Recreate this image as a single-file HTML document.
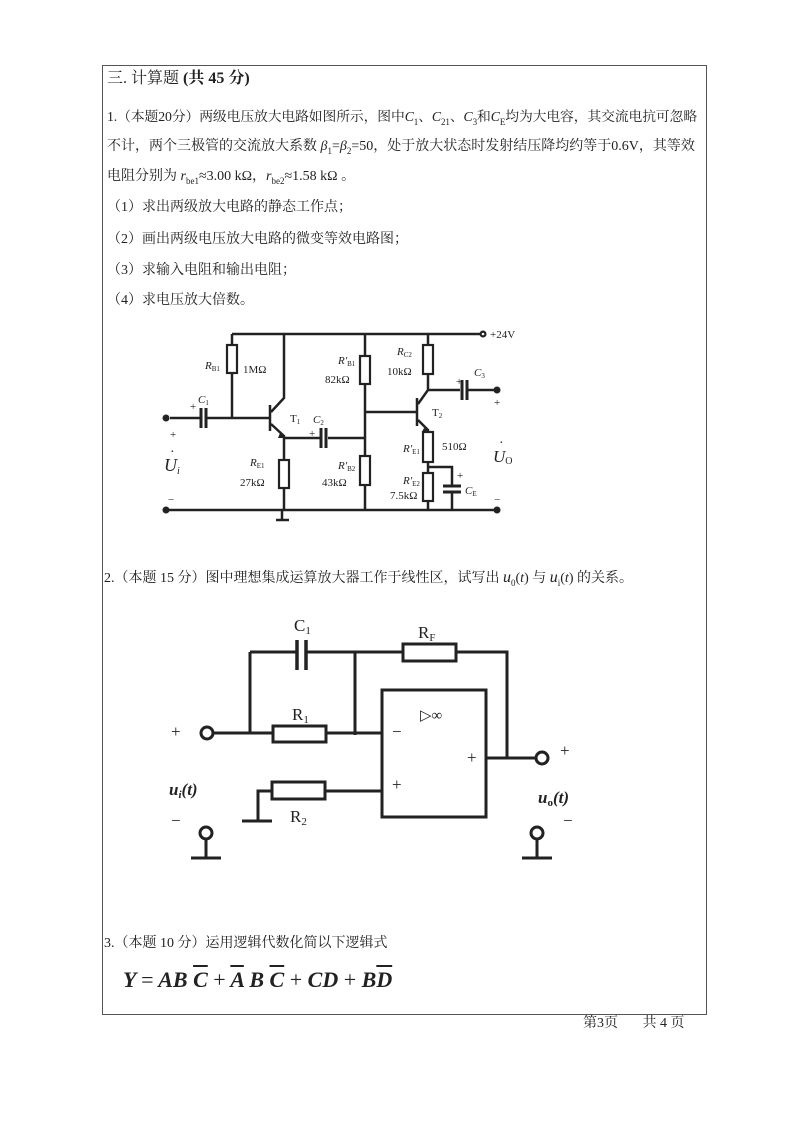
<!DOCTYPE html>
<html><head><meta charset="utf-8">
<style>
body{margin:0;background:#fff;}
#p{position:relative;width:792px;height:1122px;overflow:hidden;background:#fff;font-family:"Liberation Serif","Noto Serif CJK SC","Noto Sans CJK SC",serif;color:#222;}
.t{position:absolute;font-size:14px;white-space:nowrap;line-height:1;}
.box{position:absolute;left:102px;top:65px;width:603px;height:948px;border:1px solid #555;}
svg{position:absolute;left:0;top:0;}
sub{font-size:9px;}
</style></head><body><div id="p">
<div class="box"></div>
<div class="t" style="left:107px;top:71px;font-size:16px;">三. 计算题 <b>(共 45 分)</b></div>
<div class="t" style="left:107px;top:110px;font-size:13.8px;letter-spacing:-0.1px;">1.（本题20分）两级电压放大电路如图所示，图中<i>C</i><sub>1</sub>、<i>C</i><sub>21</sub>、<i>C</i><sub>3</sub>和<i>C</i><sub>E</sub>均为大电容，其交流电抗可忽略</div>
<div class="t" style="left:107px;top:140px;">不计，两个三极管的交流放大系数 <i>β</i><sub>1</sub>=<i>β</i><sub>2</sub>=50，处于放大状态时发射结压降均约等于0.6V，其等效</div>
<div class="t" style="left:107px;top:170px;">电阻分别为 <i>r</i><sub>be1</sub>≈3.00 kΩ，<i>r</i><sub>be2</sub>≈1.58 kΩ 。</div>
<div class="t" style="left:107px;top:201px;">（1）求出两级放大电路的静态工作点；</div>
<div class="t" style="left:107px;top:233px;">（2）画出两级电压放大电路的微变等效电路图；</div>
<div class="t" style="left:107px;top:264px;">（3）求输入电阻和输出电阻；</div>
<div class="t" style="left:107px;top:294px;">（4）求电压放大倍数。</div>
<div class="t" style="left:104px;top:570px;">2.（本题 15 分）图中理想集成运算放大器工作于线性区，试写出 <i style="font-size:16px">u</i><sub>0</sub>(<i>t</i>) 与 <i style="font-size:16px">u</i><sub>i</sub>(<i>t</i>) 的关系。</div>
<div class="t" style="left:104px;top:937px;">3.（本题 10 分）运用逻辑代数化简以下逻辑式</div>
<div class="t" style="left:123px;top:969px;font-size:22px;font-weight:bold;font-style:italic;">Y <span style="font-style:normal;font-weight:normal">=</span> AB <span style="text-decoration:overline">C</span> <span style="font-style:normal;font-weight:normal">+</span> <span style="text-decoration:overline">A</span> B <span style="text-decoration:overline">C</span> <span style="font-style:normal;font-weight:normal">+</span> CD <span style="font-style:normal;font-weight:normal">+</span> B<span style="text-decoration:overline">D</span></div>
<div class="t" style="left:583px;top:1017px;font-size:14px;">第3页&nbsp;&nbsp;&nbsp;&nbsp;&nbsp;&nbsp;&nbsp;共 4 页</div>

<svg width="792" height="1122" viewBox="0 0 792 1122" font-family="Liberation Serif, serif" fill="none" stroke="#222" stroke-width="2.5">
<path d="M232 334H483 M232 334V418 M170 418H200 M207 418H270 M270 405V431 M284 334V398 L271 412 M271 424 L284 436V510 M284 438H320 M328 438H365 M365 334V510 M365 412H417 M417 398V426 M428 334V390 L418 404 M418 420 L428 430V510 M428 390H460 M468 390H497 M428 467H452V486 M452 492V510 M166 510H497 M282 510V520 M276 520H289"/>
<g fill="#fff" stroke-width="2.2"><rect x="227" y="345" width="10" height="28"/><rect x="279" y="460" width="10" height="28"/><rect x="360" y="356" width="10" height="28"/><rect x="360" y="456" width="10" height="29"/><rect x="423" y="345" width="10" height="29"/><rect x="423" y="432" width="10" height="30"/><rect x="423" y="473" width="10" height="28"/></g>
<path stroke-width="3" d="M201 408V428 M206 408V428 M321 428V448 M326 428V448 M462 380V400 M467 380V400 M443 486H461 M443 492H461"/>
<g fill="#222" stroke="none"><circle cx="166" cy="418" r="3.5"/><circle cx="166" cy="510" r="3.5"/><circle cx="497" cy="390" r="3.5"/><circle cx="497" cy="510" r="3.5"/><circle cx="483" cy="334" r="3.5"/><path d="M280 433l4 5-6 0z M424 428l4 3-6 1z"/></g>
<circle cx="483" cy="334" r="1.3" fill="#fff" stroke="none"/>
<g fill="#222" stroke="none" font-size="11">
<text x="490" y="338">+24V</text>
<text x="205" y="369"><tspan font-style="italic">R</tspan><tspan font-size="7" dy="2">B1</tspan></text>
<text x="243" y="373">1MΩ</text>
<text x="198" y="403"><tspan font-style="italic">C</tspan><tspan font-size="7" dy="2">1</tspan></text><text x="190" y="410">+</text>
<text x="290" y="422">T<tspan font-size="7" dy="2">1</tspan></text>
<text x="313" y="423"><tspan font-style="italic">C</tspan><tspan font-size="7" dy="2">2</tspan></text><text x="309" y="437">+</text>
<text x="338" y="364"><tspan font-style="italic">R′</tspan><tspan font-size="7" dy="2">B1</tspan></text>
<text x="325" y="383">82kΩ</text>
<text x="397" y="355"><tspan font-style="italic">R</tspan><tspan font-size="7" dy="2">C2</tspan></text>
<text x="387" y="375">10kΩ</text>
<text x="474" y="376"><tspan font-style="italic">C</tspan><tspan font-size="7" dy="2">3</tspan></text><text x="456" y="385">+</text>
<text x="494" y="406">+</text>
<text x="432" y="416">T<tspan font-size="7" dy="2">2</tspan></text>
<text x="403" y="452"><tspan font-style="italic">R′</tspan><tspan font-size="7" dy="2">E1</tspan></text>
<text x="442" y="450">510Ω</text>
<text x="403" y="484"><tspan font-style="italic">R′</tspan><tspan font-size="7" dy="2">E2</tspan></text>
<text x="390" y="499">7.5kΩ</text>
<text x="457" y="479">+</text>
<text x="465" y="494"><tspan font-style="italic">C</tspan><tspan font-size="7" dy="2">E</tspan></text>
<text x="338" y="469"><tspan font-style="italic">R′</tspan><tspan font-size="7" dy="2">B2</tspan></text>
<text x="322" y="486">43kΩ</text>
<text x="250" y="466"><tspan font-style="italic">R</tspan><tspan font-size="7" dy="2">E1</tspan></text>
<text x="240" y="486">27kΩ</text>
<text x="170" y="438">+</text>
<text x="164" y="471" font-size="18" font-style="italic">U<tspan font-size="10" dy="3">i</tspan></text><text x="170" y="456" font-size="14">·</text>
<text x="493" y="462" font-size="17" font-style="italic">U<tspan font-size="10" dy="2" font-style="normal">O</tspan></text><text x="499" y="447" font-size="14">·</text>
<text x="168" y="503">−</text><text x="494" y="503">−</text>
</g>
<path stroke-width="3" d="M250 652H297 M306 652H403 M456 652H507V758 M250 652V733 M213 733H273 M326 733H382 M355 652V735 M486 758H535 M325 791H382 M272 791H258V821 M242 821H272 M206 839V858 M191 858H221 M537 839V858 M522 858H552"/>
<path stroke-width="3.5" d="M297 640V670 M306 640V670"/>
<g fill="#fff" stroke-width="3"><rect x="382" y="690" width="104" height="127"/><rect x="403" y="644" width="53" height="17"/><rect x="273" y="726" width="53" height="16"/><rect x="272" y="782" width="53" height="17"/><circle cx="207" cy="733" r="6"/><circle cx="542" cy="758" r="6"/><circle cx="206" cy="833" r="6"/><circle cx="537" cy="833" r="6"/></g>
<g fill="#222" stroke="none" font-size="17">
<text x="294" y="631">C<tspan font-size="11" dy="3">1</tspan></text>
<text x="418" y="638">R<tspan font-size="11" dy="3">F</tspan></text>
<text x="292" y="720">R<tspan font-size="11" dy="3">1</tspan></text>
<text x="290" y="822">R<tspan font-size="11" dy="3">2</tspan></text>
<text x="420" y="720" font-size="15">▷∞</text>
<text x="392" y="737">−</text><text x="392" y="790">+</text><text x="467" y="763">+</text>
<text x="171" y="737">+</text><text x="171" y="826">−</text>
<text x="560" y="756">+</text><text x="563" y="826">−</text>
<text x="169" y="795" font-style="italic" font-weight="bold">u<tspan font-size="11" dy="3">i</tspan><tspan dy="-3">(t)</tspan></text>
<text x="538" y="803" font-style="italic" font-weight="bold">u<tspan font-size="11" dy="3" font-style="normal">o</tspan><tspan dy="-3">(t)</tspan></text>
</g>
</svg>
</div></body></html>
